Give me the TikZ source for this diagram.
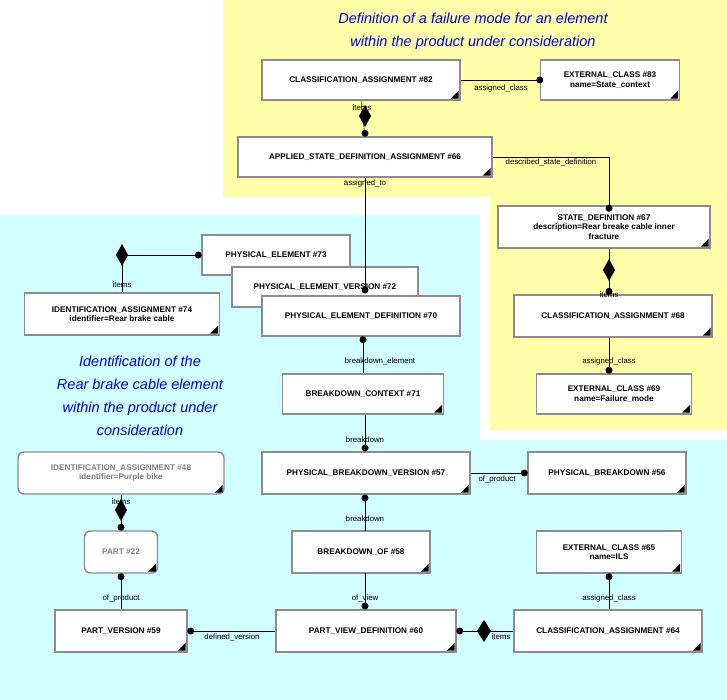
\documentclass[tikz,border=0pt]{standalone}
\usepackage{fontspec}
\setmainfont{Liberation Sans}
\definecolor{areacyan}{RGB}{210,255,255}
\definecolor{areayellow}{RGB}{255,255,170}
\begin{document}
\begin{tikzpicture}[x=1pt,y=-1pt,
entity/.style={rectangle, draw=black!45, line width=1.4pt, fill=white, align=center, font=\fontsize{8.2}{9.4}\selectfont\bfseries, inner sep=1pt},
ghost/.style={entity, rounded corners=6pt, text=black!50},
lbl/.style={font=\fontsize{7.8}{9}\selectfont, fill=none, inner sep=1pt},
title/.style={font=\fontsize{14.5}{23}\selectfont\itshape, text=blue!85!black, align=center},
dot/.style={circle, fill=black, inner sep=0pt, minimum size=7pt},
]
\useasboundingbox (0,0) rectangle (727,700);
%Regions
\fill[areayellow] (223,0) -- (727,0) -- (727,430) -- (490,430) -- (490,197) -- (223,197) -- cycle;
\fill[areacyan] (0,215) -- (480,215) -- (480,440) -- (727,440) -- (727,700) -- (0,700) -- cycle;
\node[title] at (473,31) {Definition of a failure mode for an element\\within the product under consideration};
\node[title] at (140,396) {Identification of the\\Rear brake cable element\\within the product under\\consideration};

%Nodes
\node[entity, minimum width=198pt, minimum height=40pt] (ca82) at (361,80) {CLASSIFICATION\_ASSIGNMENT \#82};
\node[entity, minimum width=139pt, minimum height=40pt] (ec83) at (610,80) {EXTERNAL\_CLASS \#83\\name=State\_context};
\node[entity, minimum width=254pt, minimum height=40pt] (asda66) at (365,157) {APPLIED\_STATE\_DEFINITION\_ASSIGNMENT \#66};
\node[entity, minimum width=212pt, minimum height=42pt] (sd67) at (604,227) {STATE\_DEFINITION \#67\\description=Rear breake cable inner\\fracture};
\node[entity, minimum width=198pt, minimum height=42pt] (ca68) at (613,316) {CLASSIFICATION\_ASSIGNMENT \#68};
\node[entity, minimum width=155pt, minimum height=40pt] (ec69) at (614,394) {EXTERNAL\_CLASS \#69\\name=Failure\_mode};
\node[entity, minimum width=148pt, minimum height=40pt] (pe73) at (276,255) {PHYSICAL\_ELEMENT \#73};
\node[entity, minimum width=186pt, minimum height=40pt] (pev72) at (325,287) {PHYSICAL\_ELEMENT\_VERSION \#72};
\node[entity, minimum width=198pt, minimum height=40pt] (ped70) at (361,316) {PHYSICAL\_ELEMENT\_DEFINITION \#70};
\node[entity, minimum width=195pt, minimum height=42pt] (ia74) at (122,314) {IDENTIFICATION\_ASSIGNMENT \#74\\identifier=Rear brake cable};
\node[entity, minimum width=161pt, minimum height=40pt] (bc71) at (363,394) {BREAKDOWN\_CONTEXT \#71};
\node[entity, minimum width=208pt, minimum height=42pt] (pbv57) at (366,473) {PHYSICAL\_BREAKDOWN\_VERSION \#57};
\node[entity, minimum width=158pt, minimum height=42pt] (pb56) at (607,473) {PHYSICAL\_BREAKDOWN \#56};
\node[ghost, minimum width=206pt, minimum height=42pt] (ia48) at (121,473) {IDENTIFICATION\_ASSIGNMENT \#48\\identifier=Purple bike};
\node[ghost, minimum width=73pt, minimum height=42pt] (part22) at (121,552) {PART \#22};
\node[entity, minimum width=138pt, minimum height=42pt] (bo58) at (361,552) {BREAKDOWN\_OF \#58};
\node[entity, minimum width=145pt, minimum height=42pt] (ec65) at (609,552) {EXTERNAL\_CLASS \#65\\name=ILS};
\node[entity, minimum width=132pt, minimum height=42pt] (pv59) at (121,631) {PART\_VERSION \#59};
\node[entity, minimum width=180pt, minimum height=42pt] (pvd60) at (366,631) {PART\_VIEW\_DEFINITION \#60};
\node[entity, minimum width=188pt, minimum height=42pt] (ca64) at (608,631) {CLASSIFICATION\_ASSIGNMENT \#64};
\foreach \n in {ca82,ec83,asda66,sd67,ca68,ec69,ia74,bc71,pbv57,pb56,ia48,part22,bo58,ec65,pv59,pvd60,ca64}
  \fill ([xshift=-2pt,yshift=2pt]\n.south east) -- ++(-8,0) -- ++(8,-8) -- cycle;

%Lines
\newcommand{\agg}[1]{\fill (#1) ++(0,-11) -- ++(6,11) -- ++(-6,11) -- ++(-6,-11) -- cycle;}
\coordinate (col) at (609,0);
\draw (ca82.east) -- (ec83.west) node[dot]{};
\node[lbl] at (501,88) {assigned\_class};
\draw (ca82.south) -- (asda66.north) node[dot, yshift=3pt]{};
\agg{365,116} \node[lbl] at (362,108) {items};
\draw (asda66.east) -| (sd67.north -| col) node[dot, yshift=-3pt]{};
\node[lbl] at (551,162) {described\_state\_definition};
\draw (asda66.south) -- (365,290) node[dot]{};
\node[lbl] at (365,183) {assigned\_to};
\draw (ia74.north) |- (pe73.west) node[dot, xshift=-3pt]{};
\agg{122,255} \node[lbl] at (122,285) {items};
\draw (sd67.south -| col) -- (ca68.north -| col) node[dot, yshift=3pt]{};
\agg{609,270} \node[lbl] at (609,295) {items};
\draw (ca68.south -| col) -- (ec69.north -| col) node[dot, yshift=3pt]{};
\node[lbl] at (609,361) {assigned\_class};
\draw (ped70.south -| bc71.north) node[dot, yshift=-3pt]{} -- (bc71.north);
\node[lbl] at (380,361) {breakdown\_element};
\draw (bc71.south -| 365,0) -- (365,448) node[dot]{};
\node[lbl] at (365,440) {breakdown};
\draw (pbv57.east) -- (pb56.west) node[dot, xshift=-3pt]{};
\node[lbl] at (497,479) {of\_product};
\draw (365,498) node[dot]{} -- (365,531);
\node[lbl] at (365,519) {breakdown};
\draw (365,573) -- (365,606) node[dot]{};
\node[lbl] at (365,598) {of\_view};
\draw (pv59.east) node[dot, xshift=3pt]{} -- (pvd60.west);
\node[lbl] at (232,637) {defined\_version};
\draw (pvd60.east) node[dot, xshift=3pt]{} -- (ca64.west);
\fill (484,631) ++(-7,0) -- ++(7,-11) -- ++(7,11) -- ++(-7,11) -- cycle;
\node[lbl] at (501,637) {items};
\draw (ca64.north -| ec65.south) -- (ec65.south) node[dot, yshift=-3pt]{};
\node[lbl] at (609,598) {assigned\_class};
\draw (ia48.south) -- (part22.north) node[dot, yshift=3pt]{};
\agg{121,510} \node[lbl] at (121,502) {items};
\draw (part22.south) node[dot, yshift=-3pt]{} -- (pv59.north);
\node[lbl] at (121,598) {of\_product};
\end{tikzpicture}
\end{document}
